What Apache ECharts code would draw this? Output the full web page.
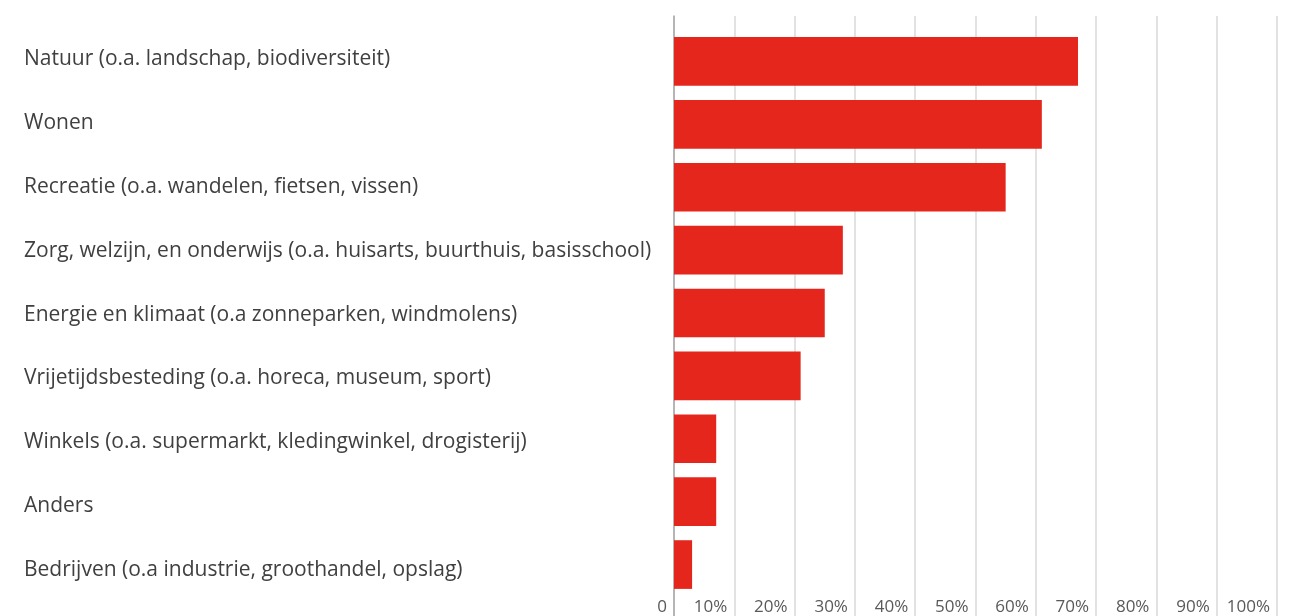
<!DOCTYPE html>
<html>
<head>
<meta charset="utf-8">
<script src="https://cdn.jsdelivr.net/npm/echarts@6/dist/echarts.min.js"></script>
<style>
  html, body { margin: 0; padding: 0; background: #fff; }
  #chart { width: 1297px; height: 616px; }
</style>
</head>
<body>
<div id="chart"></div>
<script>
// categorieën, van boven naar beneden
const categories = [
  'Natuur (o.a. landschap, biodiversiteit)',
  'Wonen',
  'Recreatie (o.a. wandelen, fietsen, vissen)',
  'Zorg, welzijn, en onderwijs (o.a. huisarts, buurthuis, basisschool)',
  'Energie en klimaat (o.a zonneparken, windmolens)',
  'Vrijetijdsbesteding (o.a. horeca, museum, sport)',
  'Winkels (o.a. supermarkt, kledingwinkel, drogisterij)',
  'Anders',
  'Bedrijven (o.a industrie, groothandel, opslag)'
]
// percentages
const values = [67, 61, 55, 28, 25, 21, 7, 7, 3]
const axisMin = 0
const axisMax = 100
const axisStep = 10

const chart = echarts.init(document.getElementById('chart'))
const fontFam = '"Open Sans", sans-serif'

const option = {
  animation: false,
  grid: [
    // balken
    {left: 674, right: 20, top: 30, bottom: 20},
    // rasterlijnen, lopen door tot onderkant
    {left: 674, right: 20, top: 16, bottom: -10},
    // alleen categorielabels (iets ruimer verdeeld dan de balken)
    {left: 674, right: 20, top: 27.5, bottom: 14.3}
  ],
  xAxis: [
    {
      gridIndex: 0,
      type: 'value',
      min: axisMin,
      max: axisMax,
      interval: axisStep,
      splitLine: {show: false},
      axisLine: {show: false},
      axisTick: {show: false},
      axisLabel: {
        align: 'right',
        margin: 3,
        padding: [0, 7, 0, 0],
        color: '#595959',
        fontSize: 17,
        fontFamily: fontFam,
        formatter: (v) => v === 0 ? '0' : v + '%'
      }
    },
    {
      gridIndex: 1,
      type: 'value',
      min: axisMin,
      max: axisMax,
      interval: axisStep,
      axisLine: {show: false},
      axisTick: {show: false},
      axisLabel: {show: false},
      splitLine: {lineStyle: {color: '#d9d9d9', width: 1.5}}
    },
    {
      gridIndex: 2,
      type: 'value',
      show: false,
      min: axisMin,
      max: axisMax
    }
  ],
  yAxis: [
    {
      gridIndex: 0,
      type: 'category',
      inverse: true,
      data: categories,
      axisLine: {show: false},
      axisTick: {show: false},
      axisLabel: {show: false}
    },
    {
      gridIndex: 1,
      type: 'value',
      axisLine: {show: true, lineStyle: {color: '#a6a6a6', width: 1.5}},
      axisTick: {show: false},
      axisLabel: {show: false},
      splitLine: {show: false}
    },
    {
      gridIndex: 2,
      type: 'category',
      inverse: true,
      data: categories,
      axisLine: {show: false},
      axisTick: {show: false},
      splitLine: {show: false},
      axisLabel: {
        align: 'left',
        margin: 650,
        color: '#404040',
        fontSize: 21,
        fontFamily: fontFam
      }
    }
  ],
  series: [
    {
      type: 'bar',
      xAxisIndex: 0,
      yAxisIndex: 0,
      data: values,
      barCategoryGap: '22.6%',
      itemStyle: {color: '#e4261c'},
      z: 3
    }
  ]
}

chart.setOption(option)
</script>
</body>
</html>
